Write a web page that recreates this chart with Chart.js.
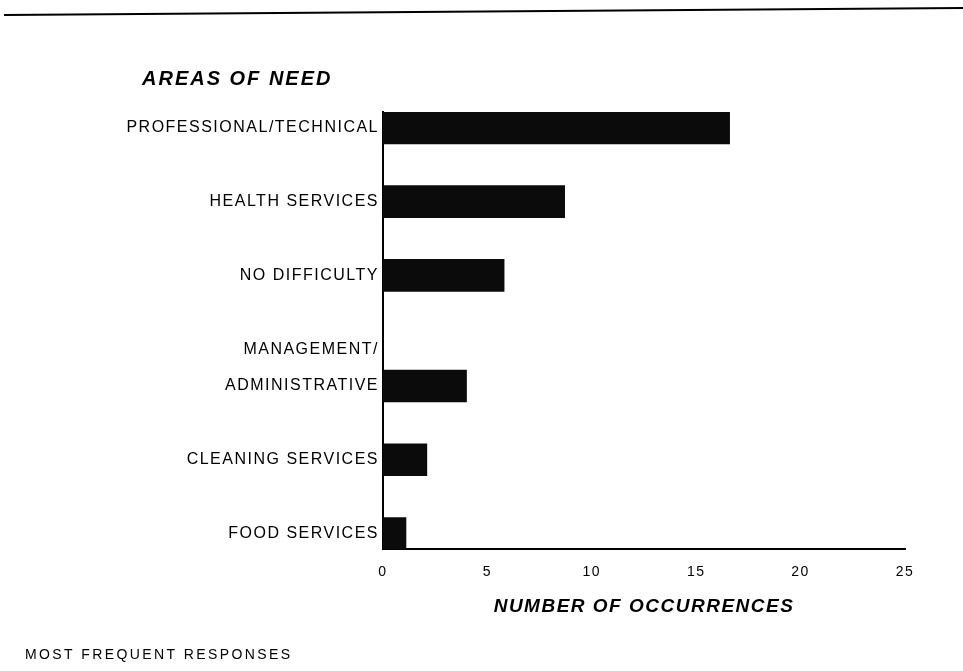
<!DOCTYPE html>
<html>
<head>
<meta charset="utf-8">
<script src="https://cdn.jsdelivr.net/npm/chart.js@4/dist/chart.umd.min.js"></script>
<style>
  html, body { margin: 0; background: #fff; }
  #wrap { width: 963px; height: 671px; position: relative; }
</style>
</head>
<body>
<div id="wrap"><canvas id="chart-needs"></canvas></div>
<script>
// ── Data ─────────────────────────────────────────────────
const AREA_LABELS = [
  ["PROFESSIONAL/TECHNICAL"],
  ["HEALTH SERVICES"],
  ["NO DIFFICULTY"],
  ["MANAGEMENT/", "ADMINISTRATIVE"],
  ["CLEANING SERVICES"],
  ["FOOD SERVICES"]
];
const OCCURRENCES = [16.6, 8.7, 5.8, 4.0, 2.1, 1.1];
const X_TICKS = [0, 5, 10, 15, 20, 25];

const CHART_TITLE = "AREAS OF NEED";
const X_TITLE = "NUMBER OF OCCURRENCES";
const FOOTNOTE = "MOST FREQUENT RESPONSES";

// ── Row layout: an extra label line pushes later rows down half a row,
//    and the bar lines up with the last line of its label ──
const labelLines = [];
const barRows = [];
let row = 0;
AREA_LABELS.forEach((lines, i) => {
  if (i > 0) row += 1;
  lines.forEach((text, k) => {
    if (k > 0) row += 0.5;
    labelLines.push({ value: row, text: text });
  });
  barRows.push(row);
});
const ROW_PAD = 0.216; // half a bar above the first / below the last row

// ── Letter spacing + page decorations ────────────────────
const spacingPlugin = {
  id: 'spacing',
  beforeUpdate: (chart) => { chart.ctx.letterSpacing = '1.5px'; },
  beforeDraw: (chart) => { chart.ctx.letterSpacing = '1.5px'; }
};

const pageNotes = {
  id: 'pageNotes',
  afterDraw: (chart) => {
    const { ctx } = chart;
    ctx.save();
    // rule across the top of the page
    ctx.beginPath();
    ctx.lineWidth = 2;
    ctx.strokeStyle = '#000';
    ctx.moveTo(4, 15);
    ctx.lineTo(963, 8);
    ctx.stroke();

    ctx.fillStyle = '#000';
    ctx.textBaseline = 'middle';
    ctx.textAlign = 'left';
    ctx.letterSpacing = '2px';
    ctx.font = "italic bold 20px 'Liberation Sans', Arial, sans-serif";
    ctx.fillText(CHART_TITLE, 142, 79);

    ctx.letterSpacing = '2.4px';
    ctx.font = "14px 'Liberation Sans', Arial, sans-serif";
    ctx.fillText(FOOTNOTE, 25, 655);
    ctx.restore();
  }
};

Chart.defaults.color = "#000";
Chart.defaults.font.family = "'Liberation Sans', Arial, sans-serif";

new Chart(document.getElementById("chart-needs"), {
  type: "bar",
  data: {
    datasets: [{
      data: OCCURRENCES.map((v, i) => ({ x: v, y: barRows[i] })),
      backgroundColor: "#0b0b0b",
      borderWidth: 0,
      barThickness: 32
    }]
  },
  plugins: [spacingPlugin, pageNotes],
  options: {
    indexAxis: "y",
    responsive: true,
    maintainAspectRatio: false,
    animation: false,
    layout: { padding: { top: 112, right: 58, bottom: 49, left: 0 } },
    plugins: {
      legend: { display: false },
      tooltip: { enabled: false }
    },
    scales: {
      y: {
        type: "linear",
        offset: false,
        reverse: true,
        min: -ROW_PAD,
        max: barRows[barRows.length - 1] + ROW_PAD,
        grid: { display: false, drawTicks: false },
        border: { display: true, color: "#000", width: 2 },
        afterBuildTicks: (scale) => {
          scale.ticks = labelLines.map(l => ({ value: l.value }));
        },
        afterFit: (scale) => { scale.width = 383; },
        ticks: {
          autoSkip: false,
          padding: 4,
          font: { size: 16 },
          callback: (v) => {
            const line = labelLines.find(l => l.value === v);
            return line ? line.text : "";
          }
        }
      },
      x: {
        type: "linear",
        offset: false,
        min: X_TICKS[0],
        max: X_TICKS[X_TICKS.length - 1],
        grid: { display: false, drawTicks: false },
        border: { display: true, color: "#000", width: 2 },
        afterBuildTicks: (scale) => {
          scale.ticks = X_TICKS.map(v => ({ value: v }));
        },
        ticks: { padding: 14, font: { size: 14 } },
        title: {
          display: true,
          text: X_TITLE,
          font: { size: 19, style: "italic", weight: "bold" },
          padding: { top: 1, bottom: 4 }
        }
      }
    }
  }
});
</script>
</body>
</html>
